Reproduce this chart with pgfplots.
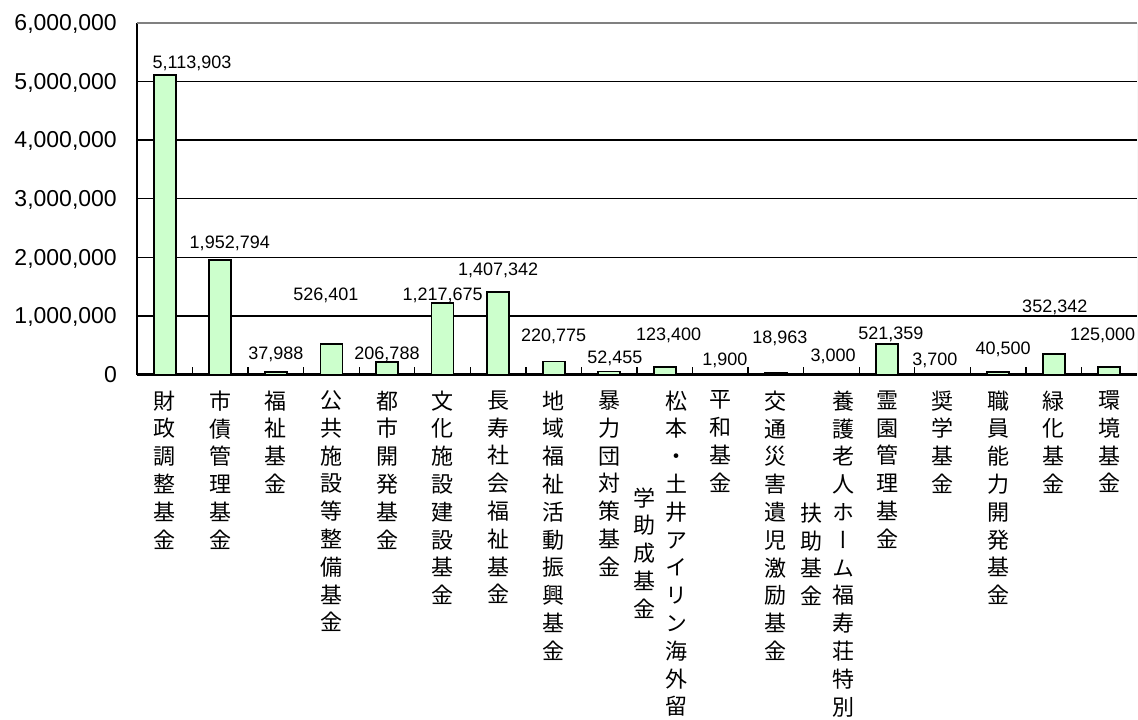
\documentclass[border=0pt]{standalone}
\usepackage{fontspec}
\setmainfont{Liberation Sans}
\newfontfamily\cjk[RawFeature=+vert]{Noto Sans CJK JP}
\usepackage{pgfplots}
\usepackage{pgfplotstable}
\pgfplotsset{compat=1.18}
\definecolor{barg}{HTML}{CCFFCC}

% stack the characters of a label one under the other (vertical writing)
\makeatletter
\newcommand\vt[1]{\vtop{\baselineskip=27.8bp\lineskiplimit=-100bp\lineskip=0pt
  \@tfor\vtch:=#1\do{\hbox to 22bp{\hss\vtch\hss}}}}
\makeatother
% a label that wraps into a second column on its left
\newcommand\vtwo[3]{\hbox{\lower#3\vt{#2}\hspace{10bp}\vt{#1}\kern8bp}}

% fund balances; lx/ly give where each value label sits
\pgfplotstableread{
x val lx ly lbl
0 5113903 0.49 5330000 5,113,903
1 1952794 1.17 2260000 1,952,794
2 37988 2.00 370000 37,988
3 526401 2.90 1370000 526,401
4 206788 4.00 370000 206,788
5 1217675 5.00 1370000 1,217,675
6 1407342 6.00 1800000 1,407,342
7 220775 7.00 670000 220,775
8 52455 8.10 300000 52,455
9 123400 9.07 690000 123,400
10 1900 10.08 260000 1,900
11 18963 11.07 640000 18,963
12 3000 12.03 330000 3,000
13 521359 13.07 710000 521,359
14 3700 13.86 260000 3,700
15 40500 15.09 450000 40,500
16 352342 16.02 1170000 352,342
17 125000 16.88 690000 125,000
}\fundtab

\begin{document}
\begin{tikzpicture}
\useasboundingbox (0,0) rectangle (1138bp,720bp);
\begin{axis}[
  at={(137bp,345.5bp)}, anchor=south west,
  width=1000bp, height=351.8bp, scale only axis,
  xmin=-0.5, xmax=17.5, ymin=0, ymax=6000000,
  axis x line*=bottom, axis y line*=left,
  axis line style={-, black, line width=2bp},
  tick align=inside,
  ytick={0,1000000,2000000,3000000,4000000,5000000,6000000},
  scaled y ticks=false,
  major tick length=8bp,
  ytick style={black, line width=1.4bp},
  ymajorgrids, major grid style={black, line width=1.4bp},
  yticklabel style={font=\fontsize{23bp}{27bp}\selectfont, anchor=east,
    inner sep=0pt, xshift=-20bp, text height=16bp, text depth=0pt,
    /pgf/number format/fixed, /pgf/number format/1000 sep={,},
    /pgf/number format/assume math mode=true},
  xtick={0,...,17},
  xtick style={draw=none},
  minor xtick={0.5,1.5,...,16.5},
  minor tick length=7bp,
  minor x tick style={draw=black, line width=1.4bp},
  xticklabel style={font=\cjk\fontsize{22bp}{28bp}\selectfont,
    anchor=north, inner sep=0pt, yshift=-16bp},
  xticklabels={
    {\vt{財政調整基金}},
    {\vt{市債管理基金}},
    {\vt{福祉基金}},
    {\vt{公共施設等整備基金}},
    {\vt{都市開発基金}},
    {\vt{文化施設建設基金}},
    {\vt{長寿社会福祉基金}},
    {\vt{地域福祉活動振興基金}},
    {\vt{暴力団対策基金}},
    {\vtwo{松本・土井アイリン海外留}{学助成基金}{97bp}},
    {\vt{平和基金}},
    {\vt{交通災害遺児激励基金}},
    {\vtwo{養護老人ホーム福寿荘特別}{扶助基金}{112bp}},
    {\vt{霊園管理基金}},
    {\vt{奨学基金}},
    {\vt{職員能力開発基金}},
    {\vt{緑化基金}},
    {\vt{環境基金}}},
]
\addplot[ybar, bar width=22bp, bar shift=0pt, fill=barg, draw=black,
  line width=1.8bp] table[x=x, y=val] {\fundtab};
\addplot[draw=none, mark=none, nodes near coords,
  point meta=explicit symbolic,
  nodes near coords style={anchor=center, inner sep=0pt,
    font=\fontsize{18bp}{22bp}\selectfont, text height=12.8bp, text depth=0pt}]
  table[x=lx, y=ly, meta=lbl] {\fundtab};
% plot-area border on the top and right
\draw[color=gray, line width=2bp] (rel axis cs:0,1) -- (rel axis cs:1,1);
\draw[color=black!25, line width=1bp] (rel axis cs:1,1) -- (rel axis cs:1,0);
\end{axis}
\end{tikzpicture}
\end{document}
